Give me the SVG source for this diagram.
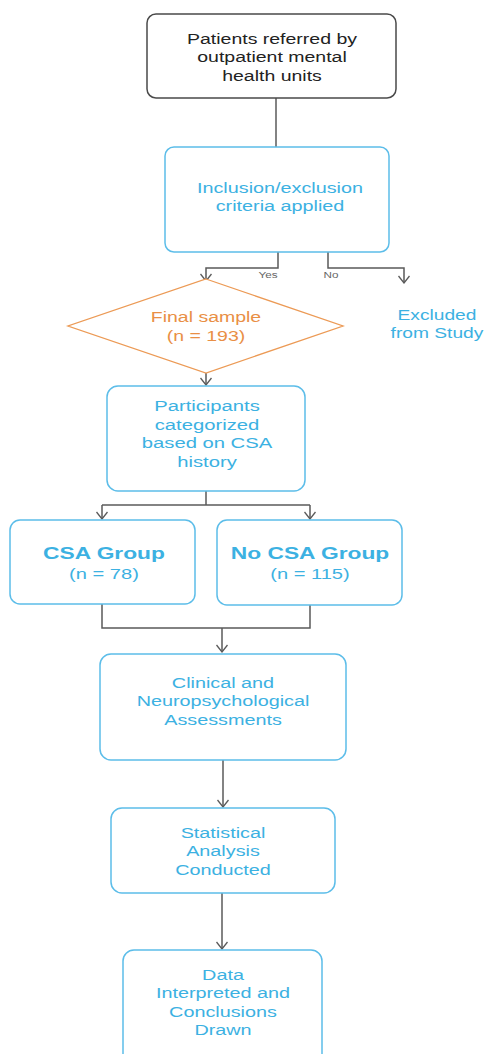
<svg xmlns="http://www.w3.org/2000/svg" width="486" height="1054" viewBox="0 0 486 1054">
  <style>
    .box { fill: #ffffff; stroke: #5cbde9; stroke-width: 1.5; }
    .start { fill: #ffffff; stroke: #4a4a4a; stroke-width: 1.5; }
    .dia { fill: #ffffff; stroke: #ec9a55; stroke-width: 1.3; }
    .t { font-family: "Liberation Sans", Arial, sans-serif; font-size: 15px; text-anchor: middle; fill: #3cb1e2; }
    .dark { fill: #222222; }
    .orange { fill: #e98f45; }
    .bold { font-weight: bold; font-size: 17px; }
    .lbl { font-family: "Liberation Sans", Arial, sans-serif; font-size: 9px; text-anchor: middle; fill: #666666; }
    .wire { fill: none; stroke: #5a5a5a; stroke-width: 1.5; }
  </style>
  <defs>
    <marker id="chev" viewBox="0 0 12 12" refX="11" refY="6" markerWidth="12" markerHeight="12" markerUnits="userSpaceOnUse" orient="auto">
      <path d="M4,0.5 L11,6 L4,11.5" fill="none" stroke="#5a5a5a" stroke-width="1.3"/>
    </marker>
  </defs>

  <!-- connectors -->
  <g id="connectors">
    <path class="wire" d="M276,98 V147"/>
    <path class="wire" d="M278,252 V268 H206 V281" marker-end="url(#chev)"/>
    <path class="wire" d="M328,252 V268 H404 V283" marker-end="url(#chev)"/>
    <path class="wire" d="M206,373 V385" marker-end="url(#chev)"/>
    <path class="wire" d="M206,491 V505"/>
    <path class="wire" d="M102,505 H310"/>
    <path class="wire" d="M102,505 V519" marker-end="url(#chev)"/>
    <path class="wire" d="M310,505 V519" marker-end="url(#chev)"/>
    <path class="wire" d="M102,604 V628 H310 V605"/>
    <path class="wire" d="M222,628 V652" marker-end="url(#chev)"/>
    <path class="wire" d="M223,760 V807" marker-end="url(#chev)"/>
    <path class="wire" d="M222,893 V949" marker-end="url(#chev)"/>
    <g transform="translate(268 0) scale(1.3 1)">
      <text class="lbl" x="0" y="278">Yes</text>
    </g>
    <g transform="translate(331 0) scale(1.3 1)">
      <text class="lbl" x="0" y="278">No</text>
    </g>
  </g>

  <!-- referral -->
  <g id="referral">
    <rect class="start" x="147" y="14" width="249" height="84" rx="9"/>
    <g transform="translate(272 0) scale(1.3 1)">
      <text class="t dark" x="0" y="44">Patients referred by</text>
      <text class="t dark" x="0" y="62.5">outpatient mental</text>
      <text class="t dark" x="0" y="81">health units</text>
    </g>
  </g>

  <!-- criteria -->
  <g id="criteria">
    <rect class="box" x="165" y="147" width="224" height="105" rx="9"/>
    <g transform="translate(280 0) scale(1.32 1)">
      <text class="t" x="0" y="193">Inclusion/exclusion</text>
      <text class="t" x="0" y="211">criteria applied</text>
    </g>
  </g>

  <!-- excluded -->
  <g id="excluded">
    <g transform="translate(437 0) scale(1.28 1)">
      <text class="t" x="0" y="320">Excluded</text>
      <text class="t" x="0" y="338">from Study</text>
    </g>
  </g>

  <!-- final sample -->
  <g id="final-sample">
    <polygon class="dia" points="206,279 343,326 206,373 68,326"/>
    <g transform="translate(206 0) scale(1.3 1)">
      <text class="t orange" x="0" y="322">Final sample</text>
      <text class="t orange" x="0" y="341">(n = 193)</text>
    </g>
  </g>

  <!-- categorized -->
  <g id="categorized">
    <rect class="box" x="107" y="386" width="198" height="105" rx="11"/>
    <g transform="translate(207 0) scale(1.35 1)">
      <text class="t" x="0" y="411">Participants</text>
      <text class="t" x="0" y="430">categorized</text>
      <text class="t" x="0" y="448.5">based on CSA</text>
      <text class="t" x="0" y="467">history</text>
    </g>
  </g>

  <!-- CSA group -->
  <g id="csa-group">
    <rect class="box" x="10" y="520" width="185" height="84" rx="10"/>
    <g transform="translate(104 0) scale(1.34 1)">
      <text class="t bold" x="0" y="559">CSA Group</text>
      <text class="t" x="0" y="579">(n = 78)</text>
    </g>
  </g>

  <!-- no CSA group -->
  <g id="no-csa-group">
    <rect class="box" x="217" y="520" width="185" height="85" rx="10"/>
    <g transform="translate(310 0) scale(1.34 1)">
      <text class="t bold" x="0" y="559">No CSA Group</text>
      <text class="t" x="0" y="579">(n = 115)</text>
    </g>
  </g>

  <!-- assessments -->
  <g id="assessments">
    <rect class="box" x="100" y="654" width="246" height="106" rx="11"/>
    <g transform="translate(223 0) scale(1.32 1)">
      <text class="t" x="0" y="688">Clinical and</text>
      <text class="t" x="0" y="706.5">Neuropsychological</text>
      <text class="t" x="0" y="725">Assessments</text>
    </g>
  </g>

  <!-- analysis -->
  <g id="analysis">
    <rect class="box" x="111" y="808" width="224" height="85" rx="11"/>
    <g transform="translate(223 0) scale(1.32 1)">
      <text class="t" x="0" y="838">Statistical</text>
      <text class="t" x="0" y="856.5">Analysis</text>
      <text class="t" x="0" y="875">Conducted</text>
    </g>
  </g>

  <!-- conclusions -->
  <g id="conclusions">
    <rect class="box" x="123" y="950" width="199" height="120" rx="11"/>
    <g transform="translate(223 0) scale(1.32 1)">
      <text class="t" x="0" y="980">Data</text>
      <text class="t" x="0" y="998.5">Interpreted and</text>
      <text class="t" x="0" y="1017">Conclusions</text>
      <text class="t" x="0" y="1035.5">Drawn</text>
    </g>
  </g>
</svg>
